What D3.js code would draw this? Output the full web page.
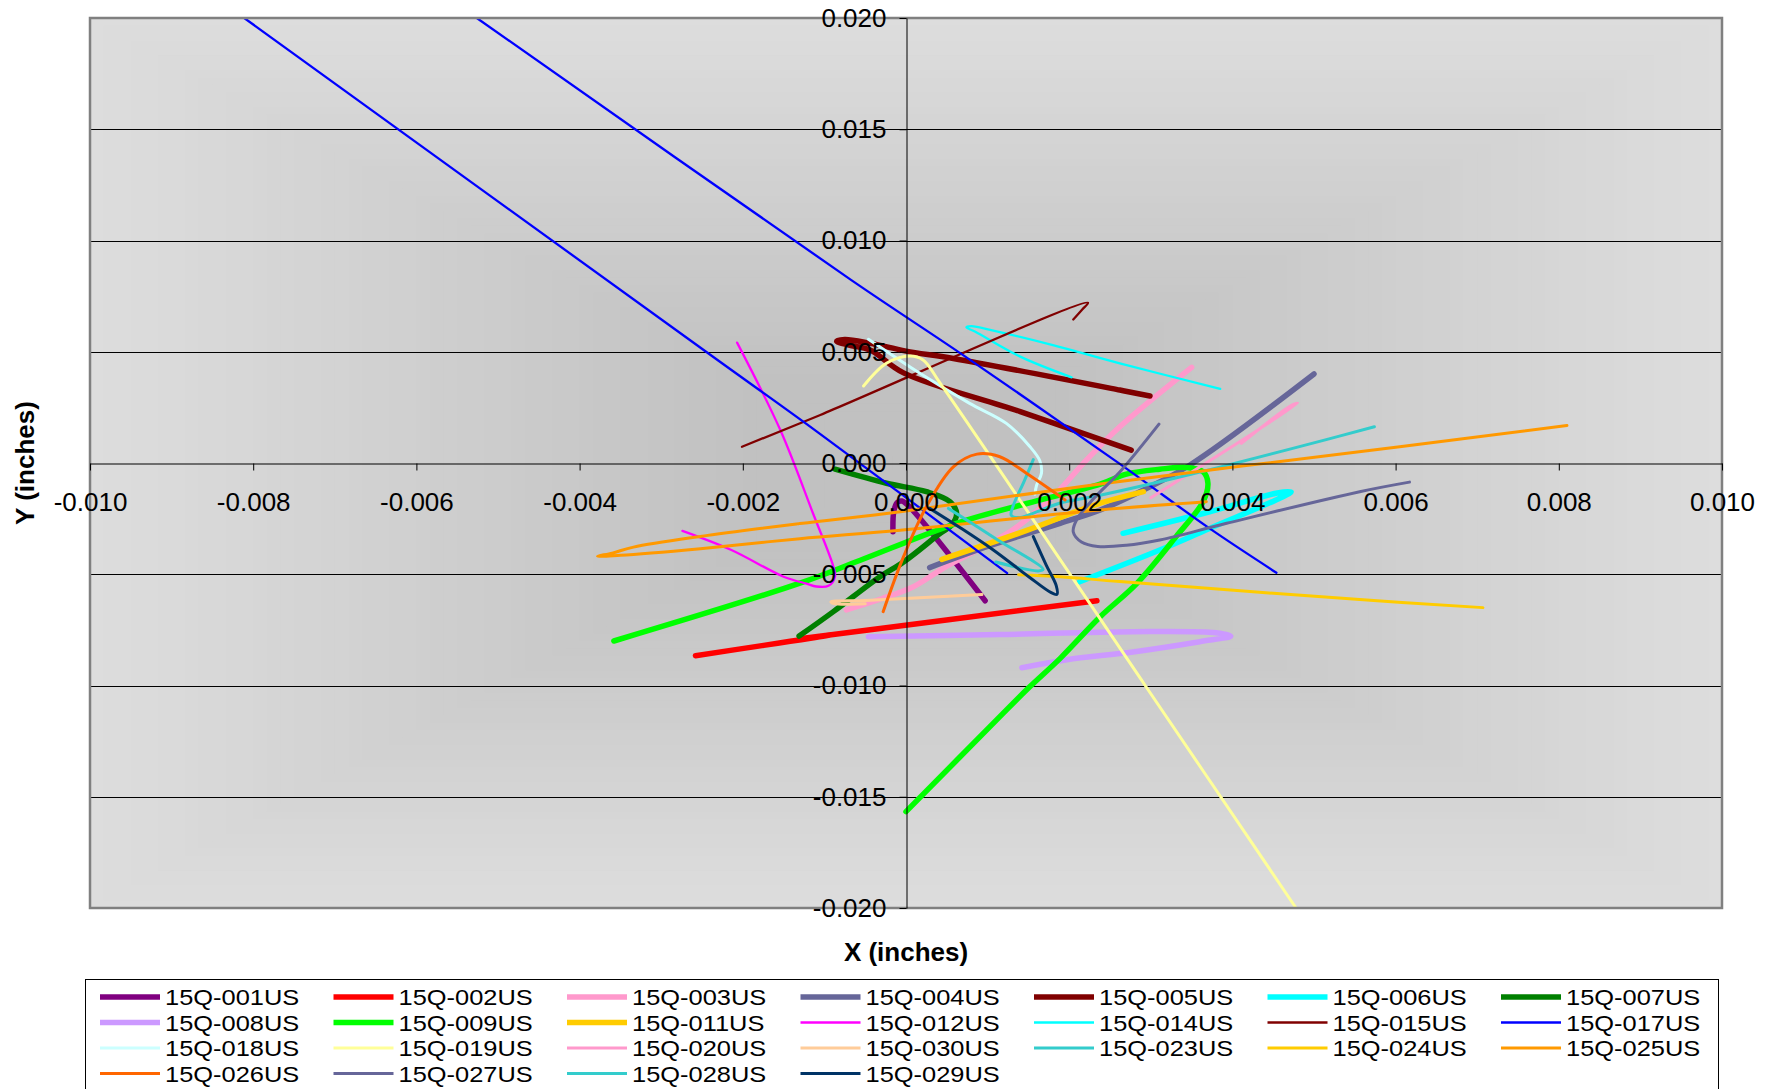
<!DOCTYPE html>
<html><head><meta charset="utf-8">
<script src="https://cdn.jsdelivr.net/npm/d3@7"></script>
<style>
body{margin:0;background:#fff;}
text{font-family:"Liberation Sans",Arial,sans-serif;}
</style>
</head><body>
<svg id="chart" width="1778" height="1089"></svg>
<script>
// ---------- DATA (inches) ----------
const seriesNames = ["15Q-001US","15Q-002US","15Q-003US","15Q-004US","15Q-005US","15Q-006US","15Q-007US",
  "15Q-008US","15Q-009US","15Q-011US","15Q-012US","15Q-014US","15Q-015US","15Q-017US",
  "15Q-018US","15Q-019US","15Q-020US","15Q-030US","15Q-023US","15Q-024US","15Q-025US",
  "15Q-026US","15Q-027US","15Q-028US","15Q-029US"];
const seriesColors = ["#800080","#FF0000","#FF99CC","#666699","#800000","#00FFFF","#008000",
  "#CC99FF","#00FF00","#FFCC00","#FF00FF","#00FFFF","#800000","#0000FF",
  "#CCFFFF","#FFFF99","#FF99CC","#FFCC99","#33CCCC","#FFCC00","#FF9900",
  "#FF6600","#666699","#33CCCC","#003366"];
const seriesWeight = ["thick","thick","thick","thick","thick","thick","thick",
  "thick","thick","thick","thin","thin","thin","thin",
  "medium","medium","medium","medium","medium","medium","medium",
  "medium","medium","medium","medium"];

const s001 = [[-0.00016,-0.00309],[-0.00015,-0.00219],[-0.00011,-0.00178],[-0.00005,-0.00171],[0.00003,-0.00192],[0.00097,-0.00619]];
const s002 = [[-0.00258,-0.00866],[-0.00091,-0.00772],[-0.00130,-0.00790],[0.00234,-0.00619]];
const s003 = [[-0.00073,-0.00660],[-0.00030,-0.00610],[0.00009,-0.00556],[0.00046,-0.00472],[0.00131,-0.00300],[0.00180,-0.00151],[0.00221,0.00013],[0.00262,0.00163],[0.00350,0.00430]];
const s004 = [[0.00029,-0.00470],[0.00100,-0.00375],[0.00189,-0.00271],[0.00238,-0.00211],[0.00291,-0.00121],[0.00348,-0.00009],[0.00500,0.00400]];
const s005 = [[0.00299,0.00301],[0.00262,0.00328],[0.00058,0.00470],[0.00000,0.00503],[-0.00044,0.00538],[-0.00075,0.00555],[-0.00085,0.00547],[-0.00070,0.00530],[-0.00044,0.00508],[-0.00003,0.00405],[0.00140,0.00231],[0.00276,0.00058]];
const s006 = [[0.00266,-0.00316],[0.00372,-0.00219],[0.00455,-0.00135],[0.00472,-0.00130],[0.00460,-0.00155],[0.00372,-0.00294],[0.00311,-0.00391],[0.00213,-0.00533]];
const s007 = [[-0.00087,-0.00028],[-0.00024,-0.00091],[0.00025,-0.00129],[0.00054,-0.00174],[0.00062,-0.00227],[0.00056,-0.00279],[0.00042,-0.00316],[-0.00003,-0.00445],[-0.00032,-0.00511],[-0.00089,-0.00668],[-0.00131,-0.00778]];
const s008 = [[-0.00046,-0.00781],[0.00115,-0.00771],[0.00278,-0.00758],[0.00380,-0.00763],[0.00398,-0.00778],[0.00360,-0.00803],[0.00278,-0.00849],[0.00197,-0.00884],[0.00142,-0.00920]];
const s009 = [[-0.00358,-0.00800],[-0.00130,-0.00540],[-0.00056,-0.00437],[0.00062,-0.00271],[0.00148,-0.00182],[0.00238,-0.00095],[0.00270,-0.00050],[0.00311,-0.00028],[0.00344,-0.00020],[0.00364,-0.00039],[0.00370,-0.00091],[0.00364,-0.00174],[0.00331,-0.00331],[0.00283,-0.00541],[0.00238,-0.00691],[0.00189,-0.00878],[0.00151,-0.01008],[0.00115,-0.01140],[0.00000,-0.01567]];
const s011 = [[0.00044,-0.00433],[0.00148,-0.00303],[0.00230,-0.00190],[0.00291,-0.00129]];
const s012 = [[-0.00207,0.00541],[-0.00154,0.00148],[-0.00114,-0.00226],[-0.00089,-0.00466],[-0.00087,-0.00511],[-0.00095,-0.00552],[-0.00110,-0.00555],[-0.00122,-0.00542],[-0.00150,-0.00511],[-0.00214,-0.00391],[-0.00274,-0.00305]];
const s014 = [[0.00203,0.00385],[0.00140,0.00478],[0.00085,0.00590],[0.00074,0.00610],[0.00080,0.00615],[0.00107,0.00595],[0.00180,0.00530],[0.00262,0.00448],[0.00385,0.00333]];
const s015 = [[-0.00201,0.00073],[-0.00105,0.00216],[0.00223,0.00720],[0.00216,0.00690],[0.00205,0.00645]];
const s017 = [[0.00124,-0.00495],[-0.00105,0.00130],[-0.00245,0.00500],[-0.00811,0.02000],null,[-0.00526,0.02000],[-0.00067,0.00822],[0.00070,0.00485],[0.00262,-0.00004],[0.00372,-0.00294],[0.00454,-0.00493]];
const s018 = [[-0.00046,0.00556],[0.00017,0.00403],[0.00078,0.00268],[0.00123,0.00178],[0.00152,0.00073],[0.00164,0.00010],[0.00166,-0.00046],[0.00160,-0.00100],[0.00158,-0.00140]];
const s019 = [[-0.00052,0.00346],[-0.00024,0.00448],[0.00005,0.00481],[0.00021,0.00463],[0.00042,0.00358],[0.00295,-0.01010],[0.00478,-0.02000]];
const s020 = [[0.00300,-0.00156],[0.00480,0.00268],[0.00472,0.00258],[0.00411,0.00088]];
const s030 = [[0.00093,-0.00591],[-0.00050,-0.00618],[-0.00092,-0.00624],[-0.00088,-0.00632],[-0.00050,-0.00633]];
const s023 = [[0.00156,0.00015],[0.00145,-0.00080],[0.00131,-0.00196],[0.00129,-0.00235],[0.00140,-0.00245],[0.00160,-0.00220],[0.00189,-0.00180],[0.00238,-0.00145],[0.00348,-0.00052],[0.00515,0.00105],[0.00574,0.00163]];
const s024 = [[0.00138,-0.00502],[0.00189,-0.00511],[0.00262,-0.00533],[0.00556,-0.00614],[0.00707,-0.00650]];
const s025 = [[0.00368,-0.00174],[0.00238,-0.00211],[-0.00007,-0.00302],[-0.00130,-0.00340],[-0.00252,-0.00385],[-0.00350,-0.00415],[-0.00378,-0.00419],[-0.00360,-0.00405],[-0.00334,-0.00378],[-0.00252,-0.00330],[-0.00130,-0.00272],[-0.00007,-0.00219],[0.00238,-0.00094],[0.00605,0.00073],[0.00810,0.00169]];
const s026 = [[-0.00028,-0.00668],[-0.00003,-0.00421],[0.00025,-0.00196],[0.00058,-0.00017],[0.00087,0.00040],[0.00115,0.00028],[0.00148,-0.00047],[0.00195,-0.00166]];
const s027 = [[0.00310,0.00175],[0.00262,-0.00040],[0.00230,-0.00160],[0.00209,-0.00256],[0.00205,-0.00310],[0.00215,-0.00355],[0.00235,-0.00375],[0.00270,-0.00370],[0.00311,-0.00346],[0.00393,-0.00271],[0.00556,-0.00129],[0.00617,-0.00086]];
const s028 = [[0.00052,-0.00204],[0.00110,-0.00340],[0.00168,-0.00478],[0.00162,-0.00485],[0.00110,-0.00445]];
const s029 = [[0.00029,-0.00204],[0.00066,-0.00290],[0.00107,-0.00391],[0.00150,-0.00510],[0.00178,-0.00583],[0.00185,-0.00590],[0.00184,-0.00550],[0.00172,-0.00460],[0.00156,-0.00331]];

const seriesData = [s001,s002,s003,s004,s005,s006,s007,s008,s009,s011,s012,s014,s015,s017,
  s018,s019,s020,s030,s023,s024,s025,s026,s027,s028,s029];

const xTickValues = [-0.010,-0.008,-0.006,-0.004,-0.002,0,0.002,0.004,0.006,0.008,0.010];
const xTickLabels = ["-0.010","-0.008","-0.006","-0.004","-0.002","0.000","0.002","0.004","0.006","0.008","0.010"];
const yTickValues = [-0.020,-0.015,-0.010,-0.005,0,0.005,0.010,0.015,0.020];
const yTickLabels = ["-0.020","-0.015","-0.010","-0.005","0.000","0.005","0.010","0.015","0.020"];

// ---------- LAYOUT ----------
const P = {left:90, right:1722, top:18, bottom:908};
const widthOf = {thick:5.5, medium:3, thin:2.3};
const svg = d3.select("#chart");
const x = d3.scaleLinear().domain([-0.010,0.010]).range([P.left,P.right]);
const y = d3.scaleLinear().domain([-0.020,0.020]).range([P.bottom,P.top]);

// plot area background: rectangular gradient from centre
const W = P.right-P.left, H = P.bottom-P.top;
const bg = svg.append("g");
const steps = 60;
const interp = d3.interpolateRgb("#dddddd","#c1c1c1");
for (let i=0;i<steps;i++){
  const t = i/steps;
  bg.append("rect")
    .attr("x",P.left+t*W/2).attr("y",P.top+t*H/2)
    .attr("width",W*(1-t)).attr("height",H*(1-t))
    .attr("fill",interp(Math.min(1,t*1.25)));
}

// gridlines
svg.append("g").selectAll("line")
  .data(yTickValues.filter(v=>v!==0 && Math.abs(v)<0.02))
  .join("line")
  .attr("x1",P.left).attr("x2",P.right)
  .attr("y1",d=>Math.round(y(d))+0.5).attr("y2",d=>Math.round(y(d))+0.5)
  .attr("stroke","#000").attr("stroke-width",1);

// series
svg.append("clipPath").attr("id","plotclip").append("rect")
  .attr("x",P.left).attr("y",P.top).attr("width",W).attr("height",H);
const line = d3.line().defined(d=>d!==null).x(d=>x(d[0])).y(d=>y(d[1]))
  .curve(d3.curveCatmullRom.alpha(0.5));
const gs = svg.append("g").attr("clip-path","url(#plotclip)");
seriesData.forEach((data,i)=>{
  gs.append("path").datum(data).attr("d",line)
    .attr("fill","none").attr("stroke",seriesColors[i])
    .attr("stroke-width",widthOf[seriesWeight[i]])
    .attr("stroke-linecap","round").attr("stroke-linejoin","round");
});

// plot border
svg.append("rect").attr("x",P.left).attr("y",P.top).attr("width",W).attr("height",H)
  .attr("fill","none").attr("stroke","#808080").attr("stroke-width",2.5);

// axes (drawn over the series, as in the original)
const xAxis = d3.axisBottom(x).tickValues(xTickValues).tickFormat((d,i)=>xTickLabels[i])
  .tickSize(7).tickSizeOuter(0).tickPadding(22);
const gx = svg.append("g").attr("transform",`translate(0,${Math.round(y(0))+0.5})`).call(xAxis);
const yAxis = d3.axisLeft(y).tickValues(yTickValues).tickFormat((d,i)=>yTickLabels[i])
  .tickSize(7).tickSizeOuter(0).tickPadding(13);
const gy = svg.append("g").attr("transform",`translate(${Math.round(x(0))+0.5},0)`).call(yAxis);
[gx,gy].forEach(g=>{
  g.attr("font-family","'Liberation Sans',Arial,sans-serif").attr("font-size",26);
  g.selectAll("path.domain").attr("stroke","#000").attr("stroke-width",1);
  g.selectAll(".tick line").attr("stroke","#000").attr("stroke-width",1);
  g.selectAll(".tick text").attr("fill","#000");
});

// axis titles
svg.append("text").attr("x",906).attr("y",952).attr("dy","0.35em").attr("text-anchor","middle")
  .attr("font-size",26).attr("font-weight","bold").text("X (inches)");
svg.append("text").attr("transform","translate(25,463) rotate(-90)").attr("dy","0.35em")
  .attr("text-anchor","middle").attr("font-size",26).attr("font-weight","bold").text("Y (inches)");

// legend
const legCols = 7, legX0 = 165, legDX = 233.5, legY0 = 997, legDY = 25.5;
svg.append("rect").attr("x",85.5).attr("y",979.5).attr("width",1633).attr("height",130)
  .attr("fill","#fff").attr("stroke","#000").attr("stroke-width",1);
const leg = svg.append("g").selectAll("g").data(seriesNames).join("g")
  .attr("transform",(d,i)=>`translate(${legX0+(i%legCols)*legDX},${legY0+Math.floor(i/legCols)*legDY})`);
leg.append("line").attr("x1",-65).attr("x2",-5).attr("y1",0).attr("y2",0)
  .attr("stroke",(d,i)=>seriesColors[i]).attr("stroke-width",(d,i)=>widthOf[seriesWeight[i]]);
leg.append("text").attr("transform","scale(1.13,1)").attr("x",0).attr("y",0).attr("dy","0.36em")
  .attr("font-size",22.5).text(d=>d);
</script>
</body></html>
